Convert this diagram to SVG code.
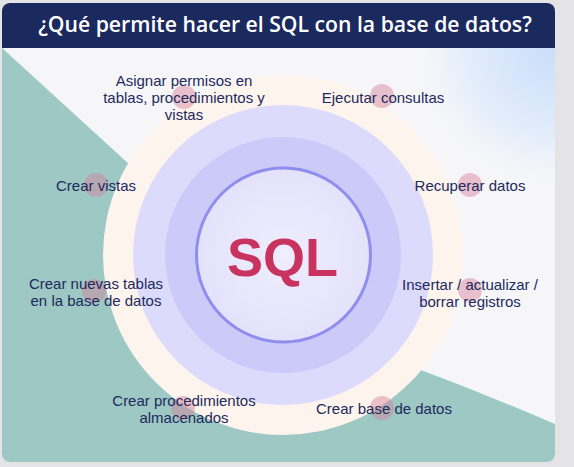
<svg xmlns="http://www.w3.org/2000/svg" width="574" height="467" viewBox="0 0 574 467">
  <defs>
    <clipPath id="card">
      <rect x="2" y="3" width="553" height="459" rx="8"/>
    </clipPath>
    <radialGradient id="sky" cx="555" cy="48" r="150" gradientUnits="userSpaceOnUse">
      <stop offset="0" stop-color="#c9defa"/>
      <stop offset="0.6" stop-color="#e3edfb"/>
      <stop offset="1" stop-color="#f6f6f8" stop-opacity="0"/>
    </radialGradient>
    <radialGradient id="core" cx="0.5" cy="0.5" r="0.5">
      <stop offset="0" stop-color="#efeefd"/>
      <stop offset="1" stop-color="#e3e2fb"/>
    </radialGradient>
  </defs>
  <style>
    .lbl { font-family: "Liberation Sans", Arial, sans-serif; font-size: 15px; fill: #1c2a5c; text-anchor: middle; }
    .dot { fill: #d67f98; fill-opacity: 0.45; }
  </style>
  <rect x="0" y="0" width="574" height="467" fill="#e4e4e6"/>
  <g clip-path="url(#card)">
    <rect x="2" y="3" width="553" height="459" fill="#f6f6f8"/>
    <rect x="400" y="48" width="155" height="140" fill="url(#sky)"/>
    <path d="M2,48 L130,165 L283,255 L418,369 Q480,392 555,424 L555,462 L2,462 Z" fill="#9dc8c4"/>
    <circle cx="283" cy="255" r="180" fill="#fdf4ee"/>
    <circle cx="283" cy="255" r="150" fill="#dcdbfc"/>
    <circle cx="283" cy="255" r="118" fill="#cccaf8"/>
    <rect x="2" y="3" width="553" height="45" fill="#1b2a5e"/>
  </g>
  <text x="285" y="32" font-family="Open Sans, Liberation Sans, sans-serif" font-weight="600" font-size="21.2" fill="#ffffff" text-anchor="middle">¿Qué permite hacer el SQL con la base de datos?</text>

  <g id="sql">
    <circle cx="283.5" cy="255" r="87" fill="url(#core)" stroke="#8f8eef" stroke-width="3"/>
    <text x="282.5" y="276" font-family="Liberation Sans, Arial, sans-serif" font-weight="700" font-size="54" fill="#c8335f" text-anchor="middle">SQL</text>
  </g>

  <g id="connectors"></g>

  <g id="asignar">
    <circle class="dot" cx="184" cy="97" r="12"/>
    <text class="lbl" x="184" y="86">Asignar permisos en</text>
    <text class="lbl" x="184" y="103">tablas, procedimientos y</text>
    <text class="lbl" x="184" y="120">vistas</text>
  </g>
  <g id="ejecutar">
    <circle class="dot" cx="382" cy="96" r="12"/>
    <text class="lbl" x="383" y="103">Ejecutar consultas</text>
  </g>
  <g id="recuperar">
    <circle class="dot" cx="470" cy="185" r="12"/>
    <text class="lbl" x="470" y="191">Recuperar datos</text>
  </g>
  <g id="insertar">
    <circle class="dot" cx="470" cy="290" r="12"/>
    <text class="lbl" x="470" y="290">Insertar / actualizar /</text>
    <text class="lbl" x="470" y="307">borrar registros</text>
  </g>
  <g id="crear-base">
    <circle class="dot" cx="382" cy="408" r="12"/>
    <text class="lbl" x="384" y="414">Crear base de datos</text>
  </g>
  <g id="crear-procedimientos">
    <circle class="dot" cx="183" cy="408" r="12"/>
    <text class="lbl" x="184" y="406">Crear procedimientos</text>
    <text class="lbl" x="184" y="423">almacenados</text>
  </g>
  <g id="crear-tablas">
    <circle class="dot" cx="94" cy="291" r="12"/>
    <text class="lbl" x="96" y="289">Crear nuevas tablas</text>
    <text class="lbl" x="96" y="306">en la base de datos</text>
  </g>
  <g id="crear-vistas">
    <circle class="dot" cx="96" cy="185" r="12"/>
    <text class="lbl" x="96" y="191">Crear vistas</text>
  </g>
</svg>
